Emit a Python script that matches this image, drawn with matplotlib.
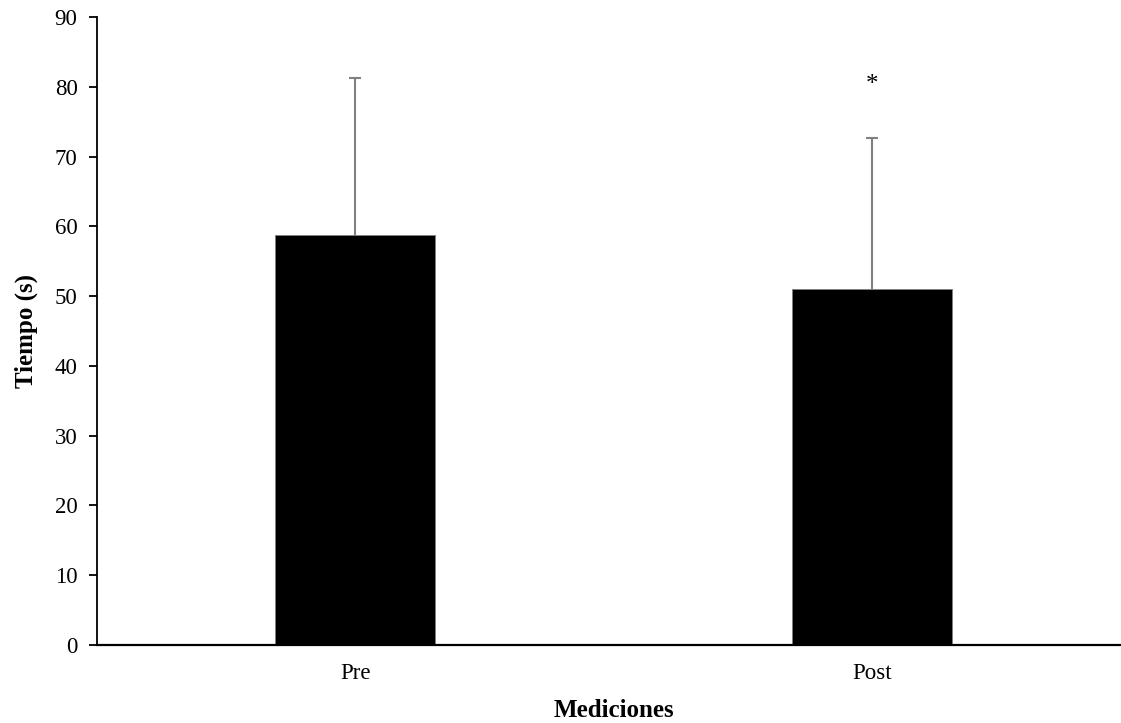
import numpy as np
import matplotlib.pyplot as plt

plt.rcParams['font.family'] = ['Liberation Serif', 'DejaVu Serif']

categories = ["Pre", "Post"]
means = [58.8, 51.0]
sd_upper = [22.5, 21.7]
marks = ["", "*"]
mark_heights = [None, 80.3]

fig = plt.figure(figsize=(11.21, 7.23), dpi=100)
ax = fig.add_axes([0.0865, 0.1079, 0.9217, 0.8686])

x = np.arange(len(categories))
tops = np.array(means) + np.array(sd_upper)

ax.bar(x, means, width=0.31, color="black", edgecolor="#7f7f7f", linewidth=0.6, zorder=2)
# upper error bars only, no cap at the bar top
ax.vlines(x, means, tops, color="#808080", linewidth=1.5, zorder=1)
ax.plot(x, tops, linestyle="none", marker="_", markersize=9, markeredgewidth=1.5,
        color="#808080", zorder=1)

for xi, m, h in zip(x, marks, mark_heights):
    if m:
        ax.text(xi, h, m, ha="center", va="center", fontsize=18)

ax.set_xlim(-0.5, 1.5)
ax.set_ylim(0, 90)
ax.set_yticks(np.arange(0, 91, 10))
ax.set_xticks(x)
ax.set_xticklabels(categories)
ax.tick_params(axis="x", length=0, pad=13, labelsize=16.5)
ax.tick_params(axis="y", length=6, width=1.3, direction="out", pad=8, labelsize=16.5)

for s in ["top", "right"]:
    ax.spines[s].set_visible(False)
ax.spines["left"].set_linewidth(1.3)
ax.spines["bottom"].set_linewidth(1.6)

ax.set_ylabel("Tiempo (s)", fontsize=18, fontweight="bold", labelpad=12)
ax.set_xlabel("Mediciones", fontsize=18, fontweight="bold", labelpad=11)

fig.savefig("out.png", dpi=100)
